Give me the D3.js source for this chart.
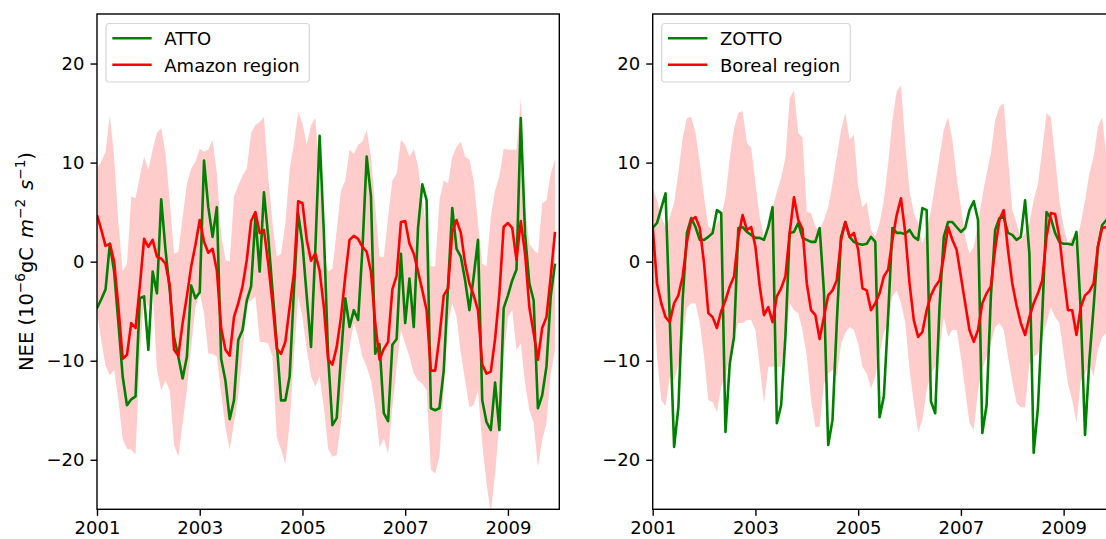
<!DOCTYPE html>
<html>
<head>
<meta charset="utf-8">
<script src="https://cdn.jsdelivr.net/npm/d3@7"></script>
<style>
  body { margin: 0; background: #fff; }
  svg { display: block; font-family: "DejaVu Sans", sans-serif; }
</style>
</head>
<body>
<svg id="fig" width="1106" height="539"></svg>
<script>
// Monthly NEE, January 2001 to December 2009 (10^-6 gC m^-2 s^-1)
const startYear = 2001;
const yearTicks = [2001, 2003, 2005, 2007, 2009];
const yTicks = [-20, -10, 0, 10, 20];

const attoNEE = [
  -4.7, -3.8, -2.8, 1.8, -1.0, -6.2, -11.6, -14.5, -13.9, -13.6, -3.7, -3.5,
  -8.9, -1.0, -3.2, 6.3, 1.2, -2.9, -7.6, -9.6, -11.8, -9.6, -2.4, -3.7,
  -3.1, 10.2, 5.5, 2.5, 5.5, -9.8, -12.0, -15.9, -14.0, -7.9, -6.9, -3.9,
  -2.5, 4.5, -1.0, 7.0, 2.5, -2.9, -8.3, -14.0, -14.0, -11.6, -2.9, 4.9,
  1.8, -3.5, -8.6, 1.2, 12.7, 2.9, -9.6, -16.5, -15.8, -9.6, -3.7, -6.6,
  -4.9, -5.9, 1.2, 10.6, 6.6, -9.3, -8.3, -15.3, -16.1, -8.4, -7.8, 0.8,
  -6.2, -1.7, -6.6, 3.4, 7.8, 6.2, -14.8, -15.0, -14.8, -11.0, -2.5, 5.4,
  1.3, 0.5, -1.9, -4.9, -1.5, 2.2, -14.0, -16.2, -17.0, -12.2, -17.0, -4.7,
  -3.4, -1.9, -0.8, 14.5, 2.8, -2.2, -3.9, -14.8, -13.5, -10.6, -3.5, -0.2
];
const amazonNEE = [
  4.7, 3.2, 1.6, 1.8, 0.0, -4.6, -9.8, -9.4, -6.2, -6.7, -2.5, 2.3,
  1.5, 2.2, 0.5, 0.3, -0.2, -2.4, -8.9, -9.5, -6.2, -3.5, -0.5, 1.7,
  4.2, 2.0, 0.9, 1.3, -0.9, -6.7, -8.9, -9.5, -5.6, -4.2, -2.5, 0.2,
  4.1, 5.0, 2.9, 3.2, -0.2, -4.2, -8.8, -9.3, -8.1, -4.6, -1.2, 6.1,
  5.9, 2.2, 0.1, 0.8, -0.9, -4.6, -9.9, -10.4, -8.6, -5.6, -1.5, 2.2,
  2.6, 2.3, 1.5, 1.0, -1.0, -6.2, -9.9, -8.8, -8.1, -2.8, -1.4, 4.0,
  4.1, 1.8, 0.8, -1.0, -2.9, -4.9, -11.0, -11.0, -7.6, -3.4, -2.7, 3.0,
  4.2, 2.9, -0.2, -2.2, -3.4, -4.9, -10.4, -11.3, -11.1, -7.8, -3.2, 3.5,
  3.9, 3.4, 0.2, 4.1, 0.8, -4.6, -7.2, -9.9, -6.7, -5.6, -1.5, 3.0
];
const amazonUpper = [
  9.4, 10.1, 11.1, 14.8, 10.6, 3.9, -1.0, -0.2, 6.6, 6.4, 8.6, 10.6,
  9.3, 11.3, 13.0, 13.5, 10.9, 6.2, 0.8, 1.0, 4.5, 7.9, 9.4, 10.1,
  11.4, 11.1, 11.3, 12.3, 8.9, 2.8, 0.2, 0.0, 6.6, 7.7, 8.7, 9.4,
  13.0, 13.8, 14.1, 14.6, 8.6, 3.9, 0.5, 0.8, 3.9, 9.3, 11.9, 15.1,
  14.0, 11.8, 13.8, 14.5, 8.9, 1.2, -1.0, -0.7, 3.2, 7.2, 8.2, 11.3,
  10.9, 11.8, 12.1, 13.3, 10.6, 5.5, 0.5, 0.5, 4.5, 8.2, 8.9, 12.3,
  11.8, 10.6, 11.4, 9.6, 6.2, 3.2, -0.5, -0.5, 6.2, 8.2, 7.9, 10.6,
  11.6, 12.1, 10.6, 10.3, 8.2, 3.9, -0.2, -0.5, 4.5, 7.2, 8.6, 11.4,
  11.3, 11.3, 11.3, 16.5, 5.5, 1.8, 1.2, 0.8, 5.9, 6.2, 8.9, 10.3
];
const amazonLower = [
  -5.0, -8.0, -10.5, -11.5, -10.9, -14.0, -17.9, -18.9, -19.0, -19.5, -9.6, -3.5,
  -4.6, -2.9, -10.9, -13.0, -12.0, -13.0, -18.5, -19.7, -16.3, -13.0, -8.6, -4.6,
  -3.2, -5.2, -9.3, -9.3, -9.6, -13.3, -16.7, -19.0, -16.3, -13.6, -9.3, -4.2,
  -3.9, -3.5, -8.1, -8.1, -8.3, -9.6, -17.7, -19.0, -20.4, -16.3, -9.6, -3.5,
  -5.6, -8.9, -11.6, -12.6, -11.6, -14.7, -18.9, -19.7, -19.5, -16.3, -11.3, -8.6,
  -6.2, -7.6, -9.6, -10.6, -12.0, -14.7, -18.7, -17.9, -19.4, -14.7, -10.6, -6.9,
  -8.3, -9.6, -11.3, -12.0, -12.3, -13.0, -21.0, -21.4, -19.7, -13.0, -6.2, -4.2,
  -5.6, -9.3, -12.0, -14.7, -14.5, -13.0, -18.4, -22.4, -25.4, -21.4, -16.3, -9.6,
  -5.6, -4.9, -8.9, -8.3, -12.3, -15.0, -16.3, -20.7, -18.0, -16.3, -11.3, -8.9
];

const zottoNEE = [
  3.4, 3.9, 5.4, 6.9, -6.0, -18.7, -14.7, -3.8, 2.9, 4.4, 3.5, 2.2,
  2.2, 2.5, 2.9, 5.2, 4.9, -17.2, -10.3, -7.6, 3.4, 3.5, 3.0, 2.7,
  2.4, 2.4, 2.2, 3.5, 5.5, -16.3, -14.5, -7.6, 2.9, 3.0, 3.9, 2.4,
  2.2, 2.0, 2.0, 3.4, -3.0, -18.5, -16.0, -6.2, 2.5, 4.0, 2.5, 2.0,
  1.8, 1.7, 1.8, 2.5, 2.0, -15.7, -13.6, -5.5, 3.4, 2.9, 2.9, 2.8,
  3.2, 2.5, 2.2, 5.4, 5.2, -14.1, -15.3, -4.6, 2.5, 4.0, 4.0, 3.5,
  3.0, 3.4, 5.2, 6.1, 4.2, -17.3, -14.5, -3.5, 3.2, 4.4, 4.5, 2.9,
  2.7, 2.2, 2.5, 6.2, 0.8, -19.3, -14.7, -5.5, 5.0, 4.4, 2.9, 2.0,
  1.8, 1.8, 1.7, 3.0, -5.0, -17.5, -10.0, -4.6, 1.5, 3.7, 4.2, 4.5
];
const borealNEE = [
  3.5, -2.2, -4.2, -5.6, -6.1, -4.2, -3.4, -1.5, 2.0, 4.2, 4.5, 3.4,
  -0.2, -5.2, -5.6, -6.7, -5.0, -3.9, -2.5, -1.5, 2.5, 4.7, 3.2, 3.5,
  1.5, -2.5, -5.4, -4.6, -6.1, -3.5, -2.7, -1.5, 2.9, 6.5, 4.2, 3.3,
  -2.2, -4.9, -5.4, -7.8, -5.6, -3.4, -2.9, -1.9, 2.2, 4.0, 2.5, 2.9,
  1.2, -2.7, -2.9, -4.9, -4.2, -3.2, -1.5, -0.8, 2.2, 4.7, 6.4, 2.9,
  -2.2, -5.9, -7.6, -7.1, -4.9, -3.4, -2.5, -1.9, 0.5, 3.5, 2.2, 1.2,
  -1.5, -4.2, -6.9, -8.1, -6.9, -4.2, -3.2, -2.5, 1.3, 4.2, 5.2, 1.2,
  -2.2, -4.4, -6.2, -7.4, -5.6, -4.2, -3.2, -1.9, 2.5, 4.9, 4.8, 2.5,
  -1.4, -4.9, -4.9, -7.4, -4.6, -3.4, -3.0, -2.2, 1.5, 3.4, 3.5, 3.5
];
const borealUpper = [
  7.4, 6.2, 4.5, 3.5, 4.5, 6.0, 9.0, 12.5, 14.5, 14.6, 13.0, 10.0,
  6.5, 3.5, 3.3, 3.8, 4.5, 6.5, 10.5, 13.5, 15.0, 15.2, 12.0, 11.5,
  8.0, 4.5, 2.5, 3.0, 5.5, 7.0, 8.5, 10.5, 16.5, 17.3, 13.0, 12.5,
  5.0, 4.9, 3.5, 3.2, 4.2, 5.5, 7.9, 10.6, 13.3, 15.0, 12.3, 12.8,
  7.6, 5.5, 6.0, 3.2, 2.5, 3.9, 6.2, 9.9, 14.3, 17.2, 17.8, 11.9,
  7.2, 4.9, 3.9, 1.8, 3.2, 5.2, 7.9, 10.6, 13.3, 14.6, 12.3, 8.6,
  5.5, 2.5, 0.8, 1.5, 3.9, 6.6, 8.9, 10.9, 14.3, 15.6, 16.0, 10.6,
  5.2, 3.9, 2.2, 2.9, 3.9, 6.2, 7.9, 11.3, 15.0, 14.6, 10.6, 6.2,
  3.5, 1.8, 2.5, 1.8, 3.9, 6.2, 8.9, 10.6, 13.6, 14.6, 10.6, 7.2
];
const borealLower = [
  -1.5, -9.6, -14.0, -14.6, -11.6, -12.0, -10.3, -7.9, -4.6, -4.2, -4.2, -6.2,
  -9.6, -14.0, -14.2, -15.2, -12.6, -11.6, -9.6, -7.6, -6.2, -6.2, -5.9, -5.9,
  -6.9, -10.6, -14.3, -10.6, -10.6, -10.6, -10.6, -7.9, -4.2, -4.9, -5.2, -6.9,
  -9.6, -14.0, -16.7, -16.7, -12.3, -11.3, -10.9, -11.6, -8.3, -7.2, -6.6, -6.9,
  -8.3, -10.6, -11.3, -12.8, -11.6, -9.3, -7.2, -6.2, -3.5, -2.9, -4.2, -6.2,
  -10.9, -14.3, -17.2, -16.0, -13.0, -11.3, -10.6, -8.9, -5.6, -7.6, -6.9, -6.9,
  -9.6, -13.0, -16.3, -17.0, -13.0, -10.9, -9.6, -8.3, -6.6, -6.2, -6.9, -9.6,
  -12.0, -14.3, -14.7, -14.7, -10.3, -9.6, -9.3, -7.6, -6.2, -4.6, -5.6, -6.2,
  -9.3, -12.3, -14.0, -16.3, -12.0, -11.3, -10.3, -11.6, -8.9, -7.6, -7.2, -7.6
];

const panels = [
  { left: 97,    site: "ATTO",  region: "Amazon region", obs: attoNEE,  model: amazonNEE, hi: amazonUpper, lo: amazonLower, legendW: 203.3 },
  { left: 652.7, site: "ZOTTO", region: "Boreal region", obs: zottoNEE, model: borealNEE, hi: borealUpper, lo: borealLower, legendW: 188.6 }
];

const plotW = 462.3, plotTop = 14, plotBottom = 509.3;
const fontSize = 18;
const svg = d3.select("#fig");

panels.forEach((p, k) => {
  const x = d3.scaleLinear().domain([2001, 2010]).range([p.left, p.left + plotW]);
  const y = d3.scaleLinear().domain([-25, 25]).range([plotBottom, plotTop]);
  const t = i => x(startYear + i / 12);

  const clipId = "clip" + k;
  svg.append("clipPath").attr("id", clipId)
    .append("rect").attr("x", p.left).attr("y", plotTop)
    .attr("width", plotW).attr("height", plotBottom - plotTop);

  const g = svg.append("g").attr("clip-path", `url(#${clipId})`);

  // spread of the regional estimate
  const band = d3.area()
    .x((d, i) => t(i))
    .y0((d, i) => y(p.lo[i]))
    .y1((d, i) => y(p.hi[i]));
  g.append("path").datum(p.hi).attr("d", band).attr("fill", "#ffcccc");

  const line = vals => d3.line().x((d, i) => t(i)).y(d => y(d))(vals);
  g.append("path").attr("d", line(p.obs))
    .attr("fill", "none").attr("stroke", "#008000").attr("stroke-width", 2.6)
    .attr("stroke-linejoin", "round");
  g.append("path").attr("d", line(p.model))
    .attr("fill", "none").attr("stroke", "#ff0000").attr("stroke-width", 2.6)
    .attr("stroke-linejoin", "round");

  // axes
  const xAxis = d3.axisBottom(x).tickValues(yearTicks).tickFormat(d3.format("d"))
    .tickSize(6.5).tickPadding(5).tickSizeOuter(0);
  const yAxis = d3.axisLeft(y).tickValues(yTicks).tickFormat(d => d < 0 ? "\u2212" + Math.abs(d) : d)
    .tickSize(6.5).tickPadding(6).tickSizeOuter(0);

  const gx = svg.append("g").attr("transform", `translate(0,${plotBottom})`).call(xAxis);
  const gy = svg.append("g").attr("transform", `translate(${p.left},0)`).call(yAxis);
  [gx, gy].forEach(a => {
    a.select(".domain").remove();
    a.selectAll(".tick line").attr("stroke", "#000").attr("stroke-width", 1.4);
    a.selectAll(".tick text").attr("fill", "#000")
      .style("font-family", "'DejaVu Sans', sans-serif").style("font-size", fontSize + "px");
  });

  // frame
  svg.append("rect").attr("x", p.left).attr("y", plotTop)
    .attr("width", plotW).attr("height", plotBottom - plotTop)
    .attr("fill", "none").attr("stroke", "#000").attr("stroke-width", 1.4);

  // legend
  const lg = svg.append("g").attr("transform", `translate(${p.left + 9},23.5)`);
  lg.append("rect").attr("width", p.legendW).attr("height", 58.5)
    .attr("rx", 3).attr("fill", "#fff").attr("fill-opacity", 0.8)
    .attr("stroke", "#d6d6d6").attr("stroke-width", 1.2);
  [[p.site, "#008000", 14.8], [p.region, "#ff0000", 41.2]].forEach(([label, c, yy]) => {
    lg.append("line").attr("x1", 6.3).attr("x2", 45.7).attr("y1", yy).attr("y2", yy)
      .attr("stroke", c).attr("stroke-width", 2.6);
    lg.append("text").attr("x", 58.3).attr("y", yy + 6.8)
      .attr("font-size", fontSize).attr("fill", "#000").text(label);
  });
});

// y-axis title on the first panel
const yt = svg.append("text")
  .attr("transform", "translate(33,371) rotate(-90)")
  .attr("text-anchor", "start").attr("font-size", 19.5).attr("fill", "#000");
yt.append("tspan").text("NEE (10");
yt.append("tspan").attr("baseline-shift", "super").attr("font-size", "70%").text("\u22126");
yt.append("tspan").text("gC");
yt.append("tspan").attr("dx", 9).attr("font-style", "italic").text("m");
yt.append("tspan").attr("baseline-shift", "super").attr("font-size", "70%").text("\u22122");
yt.append("tspan").attr("dx", 9).attr("font-style", "italic").text("s");
yt.append("tspan").attr("baseline-shift", "super").attr("font-size", "70%").text("\u22121");
yt.append("tspan").text(")");
</script>
</body>
</html>
